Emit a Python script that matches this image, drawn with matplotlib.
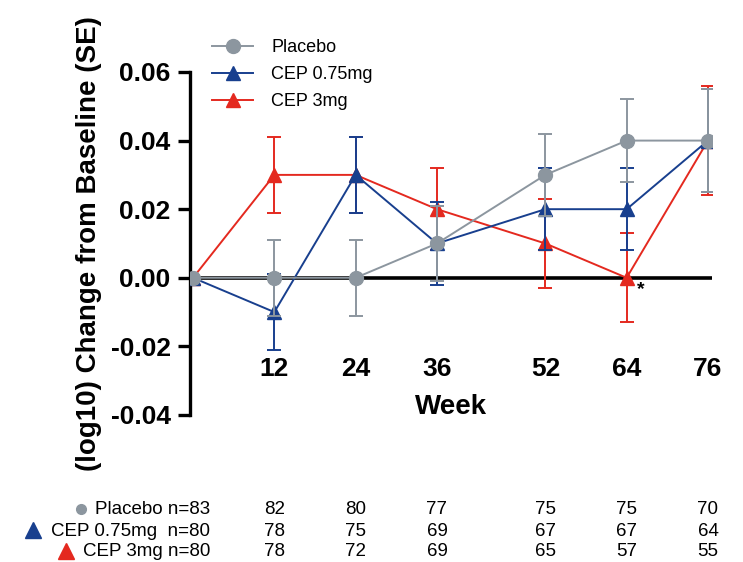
import matplotlib
matplotlib.use("Agg")
import matplotlib.pyplot as plt
import matplotlib.transforms as mtransforms
from matplotlib.lines import Line2D

plt.rcParams['font.family'] = ['Liberation Sans', 'DejaVu Sans']
plt.rcParams['axes.unicode_minus'] = False

# data
weeks = [0, 12, 24, 36, 52, 64, 76]
placebo = [0.0, 0.0, 0.0, 0.01, 0.03, 0.04, 0.04]
placebo_se = [0.0, 0.011, 0.011, 0.011, 0.012, 0.012, 0.015]
cep075 = [0.0, -0.01, 0.03, 0.01, 0.02, 0.02, 0.04]
cep075_se = [0.0, 0.011, 0.011, 0.012, 0.012, 0.012, 0.015]
cep3 = [0.0, 0.03, 0.03, 0.02, 0.01, 0.0, 0.04]
cep3_se = [0.0, 0.011, 0.011, 0.012, 0.013, 0.013, 0.016]

n_weeks = [12, 24, 36, 52, 64, 76]
n_placebo = [82, 80, 77, 75, 75, 70]
n_cep075 = [78, 75, 69, 67, 67, 64]
n_cep3 = [78, 72, 69, 65, 57, 55]

gray = '#8C969F'
blue = '#183F8E'
red = '#E4291F'

fig = plt.figure(figsize=(7.43, 5.62), dpi=100)
ax = fig.add_axes([0.2557, 0.2616, 0.7026, 0.6103])

ax.axhline(0, color='black', lw=2.6, zorder=1)

common = dict(lw=1.4, elinewidth=1.4, capsize=5, capthick=1.4, markersize=10)
e3 = ax.errorbar(weeks, cep3, yerr=cep3_se, color=red, marker='^', zorder=2, **common)
e075 = ax.errorbar(weeks, cep075, yerr=cep075_se, color=blue, marker='^', zorder=3, **common)
ep = ax.errorbar(weeks, placebo, yerr=placebo_se, color=gray, marker='o', zorder=4, **common)

ax.text(64 + 1.5, -0.001, '*', fontsize=14, fontweight='bold', ha='left', va='top')

ax.set_xlim(-0.45, 76.6)
ax.set_ylim(-0.04, 0.06)
ax.set_yticks([-0.04, -0.02, 0.0, 0.02, 0.04, 0.06])
ax.set_yticklabels(['-0.04', '-0.02', '0.00', '0.02', '0.04', '0.06'])
ax.set_xticks(n_weeks)

for s in ['top', 'right']:
    ax.spines[s].set_visible(False)
ax.spines['left'].set_linewidth(2.4)
ax.spines['bottom'].set_position(('data', -0.02))
ax.spines['bottom'].set_visible(False)
ax.tick_params(axis='y', length=9, width=2.4, labelsize=19, pad=5)
ax.tick_params(axis='x', length=0, labelsize=19, pad=8)
for lab in ax.get_xticklabels() + ax.get_yticklabels():
    lab.set_fontweight('bold')

ax.set_xlabel('Week', fontsize=20, fontweight='bold', labelpad=9)
ax.set_ylabel('(log10) Change from Baseline (SE)', fontsize=20, fontweight='bold', labelpad=6)

ax.legend([ep[0], e075[0], e3[0]], ['Placebo', 'CEP 0.75mg', 'CEP 3mg'],
          loc='upper left', bbox_to_anchor=(0.042, 1.095), frameon=False,
          fontsize=13, handlelength=2.3, handletextpad=1.0, labelspacing=0.55,
          borderaxespad=0, borderpad=0)

# subjects-at-risk table
trans = mtransforms.blended_transform_factory(ax.transData, fig.transFigure)
rows = [('Placebo n=83', n_placebo, 1 - 510 / 562),
        ('CEP 0.75mg  n=80', n_cep075, 1 - 531 / 562),
        ('CEP 3mg n=80', n_cep3, 1 - 552 / 562)]
for label, counts, yf in rows:
    fig.text(210 / 743, yf, label, fontsize=13.5, ha='right', va='center')
    for w, c in zip(n_weeks, counts):
        ax.text(w, yf, str(c), transform=trans, fontsize=13.5, ha='center', va='center')

fig.lines.append(Line2D([81 / 743], [1 - 509 / 562], marker='o', color=gray,
                        markersize=7, transform=fig.transFigure))
fig.lines.append(Line2D([33 / 743], [1 - 530 / 562], marker='^', color=blue,
                        markersize=11, transform=fig.transFigure))
fig.lines.append(Line2D([66 / 743], [1 - 551 / 562], marker='^', color=red,
                        markersize=11, transform=fig.transFigure))

fig.savefig('out.png', dpi=100)
